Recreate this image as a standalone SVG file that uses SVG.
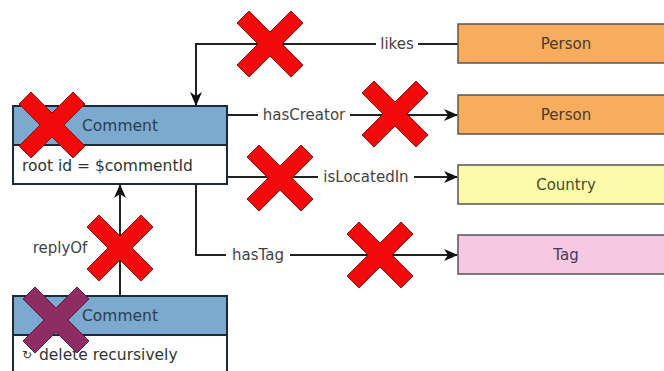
<svg xmlns="http://www.w3.org/2000/svg" width="664" height="371" viewBox="0 0 664 371">
<style>
text{font-family:"DejaVu Sans","Liberation Sans",sans-serif;}
.hdr{fill:#7ba9cf;stroke:#1e2a33;stroke-width:2;}
.body{fill:#fff;stroke:#1e2a33;stroke-width:2;}
.ct{font-size:15.5px;fill:#2b3e50;text-anchor:middle;dominant-baseline:central;}
.bt{font-size:15.5px;fill:#333;dominant-baseline:central;}
.nt{font-size:15px;fill:#4a3a2a;text-anchor:middle;dominant-baseline:central;}
.edge{fill:none;stroke:#222;stroke-width:2;}
.lbl{font-size:15px;fill:#444;text-anchor:middle;dominant-baseline:central;}
.xr{fill:#f20a0a;stroke:#8a1010;stroke-width:1;}
.xp{fill:#8e2d63;stroke:#5e1a40;stroke-width:1;}
</style>
<defs>
<marker id="arr" viewBox="0 0 14 12" refX="13" refY="6" markerWidth="14" markerHeight="12" markerUnits="userSpaceOnUse" orient="auto">
<path d="M0,0 L14,6 L0,12 L4,6 Z" fill="#111"/>
</marker>
<path id="xs" d="M-33,-21 L-21,-33 L0,-12 L21,-33 L33,-21 L12,0 L33,21 L21,33 L0,12 L-21,33 L-33,21 L-12,0 Z"/>
</defs>
<rect width="664" height="371" fill="#fff"/>
<g id="connectors">
<path class="edge" d="M458,44 H418"/>
<path class="edge" d="M376,44 H196 V105" marker-end="url(#arr)"/>
<path class="edge" d="M227,115 H258"/>
<path class="edge" d="M350,115 H457" marker-end="url(#arr)"/>
<path class="edge" d="M227,177 H318"/>
<path class="edge" d="M414,177 H457" marker-end="url(#arr)"/>
<path class="edge" d="M196,184 V255 H226"/>
<path class="edge" d="M290,255 H457" marker-end="url(#arr)"/>
<path class="edge" d="M120,296 V185" marker-end="url(#arr)"/>
<text class="lbl" x="397" y="44">likes</text>
<text class="lbl" x="304" y="115">hasCreator</text>
<text class="lbl" x="366" y="177">isLocatedIn</text>
<text class="lbl" x="258" y="255">hasTag</text>
<text class="lbl" x="60" y="248">replyOf</text>
</g>
<g id="comment-root">
<rect class="body" x="13" y="145" width="214" height="39"/>
<rect class="hdr" x="13" y="106" width="214" height="39"/>
<text class="ct" x="120" y="126">Comment</text>
<text class="bt" x="22" y="166">root id = $commentId</text>
</g>
<g id="comment-reply">
<rect class="body" x="13" y="335" width="214" height="45"/>
<rect class="hdr" x="13" y="296" width="214" height="39"/>
<text class="ct" x="120" y="316">Comment</text>
<text class="bt" x="22" y="355"><tspan font-size="12">↻</tspan><tspan dx="2"> delete recursively</tspan></text>
</g>
<g id="person-likes">
<rect x="458" y="24" width="216" height="39" fill="#f8ad5e" stroke="#555" stroke-width="1.5"/>
<text class="nt" x="566" y="44">Person</text>
</g>
<g id="person-creator">
<rect x="458" y="95" width="216" height="39" fill="#f8ad5e" stroke="#555" stroke-width="1.5"/>
<text class="nt" x="566" y="115">Person</text>
</g>
<g id="country">
<rect x="458" y="165" width="216" height="39" fill="#fbfbaa" stroke="#555" stroke-width="1.5"/>
<text class="nt" x="566" y="185" style="fill:#4a4a2a">Country</text>
</g>
<g id="tag">
<rect x="458" y="235" width="216" height="39" fill="#f6c8e3" stroke="#555" stroke-width="1.5"/>
<text class="nt" x="566" y="255" style="fill:#4a3a55">Tag</text>
</g>
<g id="crosses">
<use href="#xs" class="xr" x="270" y="44"/>
<use href="#xs" class="xr" x="395" y="114"/>
<use href="#xs" class="xr" x="280" y="178"/>
<use href="#xs" class="xr" x="380" y="255"/>
<use href="#xs" class="xr" x="120" y="248"/>
<use href="#xs" class="xr" x="52" y="125"/>
<use href="#xs" class="xp" x="56" y="320"/>
</g>
</svg>
